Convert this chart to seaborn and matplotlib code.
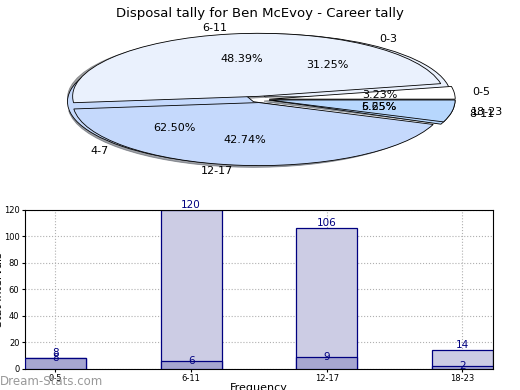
import matplotlib
matplotlib.use("Agg")
import matplotlib.pyplot as plt
import seaborn as sns

# données
intervals = ['0-5', '6-11', '12-17', '18-23']
disposals = [8, 120, 106, 14]
inner_vals = [8, 6, 9, 2]

pie2_labels = ['0-3', '4-7', '8-11']
pie2_vals = [5, 10, 1]

pie_colors = ['#ffffff', '#eaf1fd', '#c5d9fc', '#b7d7fd']
pie2_colors = ['#eaf1fd', '#c5d9fc', '#b7d7fd']

fig = plt.figure(figsize=(5.2, 3.9), dpi=100)

# ---- camembert ----
ax_pie = fig.add_axes([0.053, 0.543, 0.894, 0.404])
ax_pie.pie(pie2_vals, labels=pie2_labels, colors=pie2_colors,
           explode=[0.05] * 3, autopct='%1.2f%%',
           wedgeprops=dict(edgecolor='black', linewidth=0.6),
           textprops=dict(fontsize=8))
ax_pie.pie(disposals, labels=intervals, colors=pie_colors,
           explode=[0.05] * 4, autopct='%1.2f%%', shadow=True,
           wedgeprops=dict(edgecolor='black', linewidth=0.6),
           textprops=dict(fontsize=8))
ax_pie.set_aspect('auto')
ax_pie.set_xlim(-1.25, 1.25)
ax_pie.set_ylim(-1.25, 1.25)
ax_pie.set_title('Disposal tally for Ben McEvoy - Career tally', fontsize=9.5, pad=3)

# ---- barres ----
ax = fig.add_axes([0.048, 0.054, 0.9, 0.408])
sns.barplot(x=intervals, y=disposals, color='#ccccE4', saturation=1,
            width=0.45, edgecolor='#000080', linewidth=0.9, ax=ax, zorder=2)
sns.barplot(x=intervals, y=inner_vals, color='#a6a6d0', saturation=1,
            width=0.45, edgecolor='#000080', linewidth=0.9, ax=ax, zorder=3)

for i, (h1, h2) in enumerate(zip(disposals, inner_vals)):
    ax.text(i, h1, str(h1), ha='center', va='bottom', color='#000080', fontsize=7.5, zorder=4)
    ax.text(i, h2, str(h2), ha='center', va='center', color='#000080', fontsize=7.5, zorder=4)

ax.set_xlim(-0.225, 3.225)
ax.set_ylim(0, 120)
ax.set_yticks(range(0, 121, 20))
ax.grid(True, linestyle=':', color='#b0b0b0', linewidth=0.8, zorder=0)
ax.set_axisbelow(True)
ax.tick_params(labelsize=6, length=2, pad=2)
ax.set_xlabel('Frequency', fontsize=8, labelpad=0)
ax.set_ylabel('Stat Intervals', fontsize=8, labelpad=0)

fig.text(0.0, 0.012, 'Dream-Stats.com', color='#999999', fontsize=8.5)

fig.savefig('out.png', dpi=100)
